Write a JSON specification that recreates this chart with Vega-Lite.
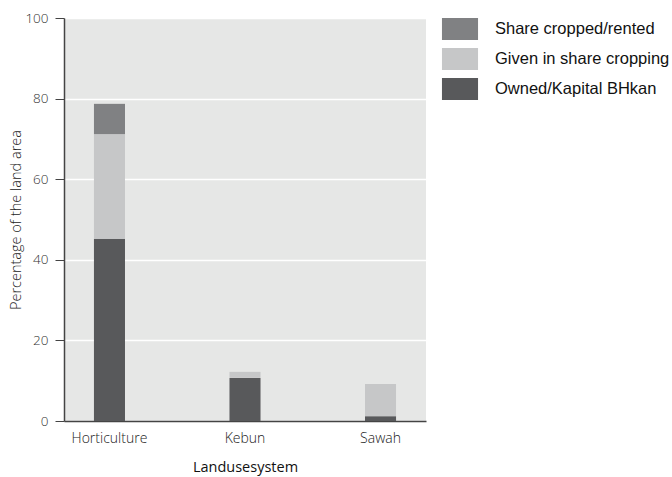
{
  "$schema": "https://vega.github.io/schema/vega-lite/v6.json",
  "autosize": "none",
  "width": 362,
  "height": 403,
  "padding": {"left": 64, "top": 18, "right": 246, "bottom": 56},
  "background": "white",
  "config": {
    "view": {"fill": "#e6e7e6", "stroke": null},
    "font": "Open Sans"
  },
  "data": {
    "values": [
      {"system": "Horticulture", "type": "Owned/Kapital BHkan", "value": 45.2, "ord": 1},
      {"system": "Horticulture", "type": "Given in share cropping", "value": 26.0, "ord": 2},
      {"system": "Horticulture", "type": "Share cropped/rented", "value": 7.5, "ord": 3},
      {"system": "Kebun", "type": "Owned/Kapital BHkan", "value": 10.7, "ord": 1},
      {"system": "Kebun", "type": "Given in share cropping", "value": 1.5, "ord": 2},
      {"system": "Kebun", "type": "Share cropped/rented", "value": 0, "ord": 3},
      {"system": "Sawah", "type": "Owned/Kapital BHkan", "value": 1.2, "ord": 1},
      {"system": "Sawah", "type": "Given in share cropping", "value": 8.0, "ord": 2},
      {"system": "Sawah", "type": "Share cropped/rented", "value": 0, "ord": 3}
    ]
  },
  "mark": {"type": "bar"},
  "encoding": {
    "x": {
      "field": "system",
      "type": "nominal",
      "scale": {"paddingInner": 0.771, "paddingOuter": 0.221},
      "axis": {
        "title": "Landusesystem",
        "labelAngle": 0,
        "labelFontSize": 14,
        "labelFontWeight": 300,
        "labelColor": "#222",
        "labelPadding": 10,
        "ticks": false,
        "domainColor": "#444",
        "domainWidth": 1.5,
        "titleFontSize": 14.5,
        "titleFontWeight": 400,
        "titleColor": "#111",
        "titlePadding": 15
      }
    },
    "y": {
      "field": "value",
      "type": "quantitative",
      "stack": "zero",
      "scale": {"domain": [0, 100]},
      "axis": {
        "title": "Percentage of the land area",
        "values": [0, 20, 40, 60, 80, 100],
        "labelFontSize": 13.5,
        "labelFontWeight": 300,
        "labelColor": "#333",
        "labelPadding": 7,
        "tickSize": 9,
        "tickColor": "#444",
        "domainColor": "#444",
        "domainWidth": 1.5,
        "gridColor": "white",
        "gridWidth": 1.5,
        "titleFontSize": 14.5,
        "titleFontWeight": 300,
        "titleColor": "#222",
        "titlePadding": 1
      }
    },
    "color": {
      "field": "type",
      "type": "nominal",
      "sort": ["Share cropped/rented", "Given in share cropping", "Owned/Kapital BHkan"],
      "scale": {
        "domain": ["Share cropped/rented", "Given in share cropping", "Owned/Kapital BHkan"],
        "range": ["#808183", "#c6c7c8", "#58595b"]
      },
      "legend": {
        "title": null,
        "orient": "none",
        "legendX": 385,
        "legendY": 0,
        "symbolType": "M-1.64,-1L1.64,-1L1.64,1L-1.64,1Z",
        "symbolSize": 484,
        "symbolStrokeWidth": 0,
        "symbolOpacity": 1,
        "labelFont": "Liberation Sans",
        "labelFontSize": 16.5,
        "labelColor": "#111",
        "labelOffset": 24,
        "rowPadding": 8,
        "labelLimit": 300
      }
    },
    "order": {"field": "ord", "type": "quantitative"}
  }
}
